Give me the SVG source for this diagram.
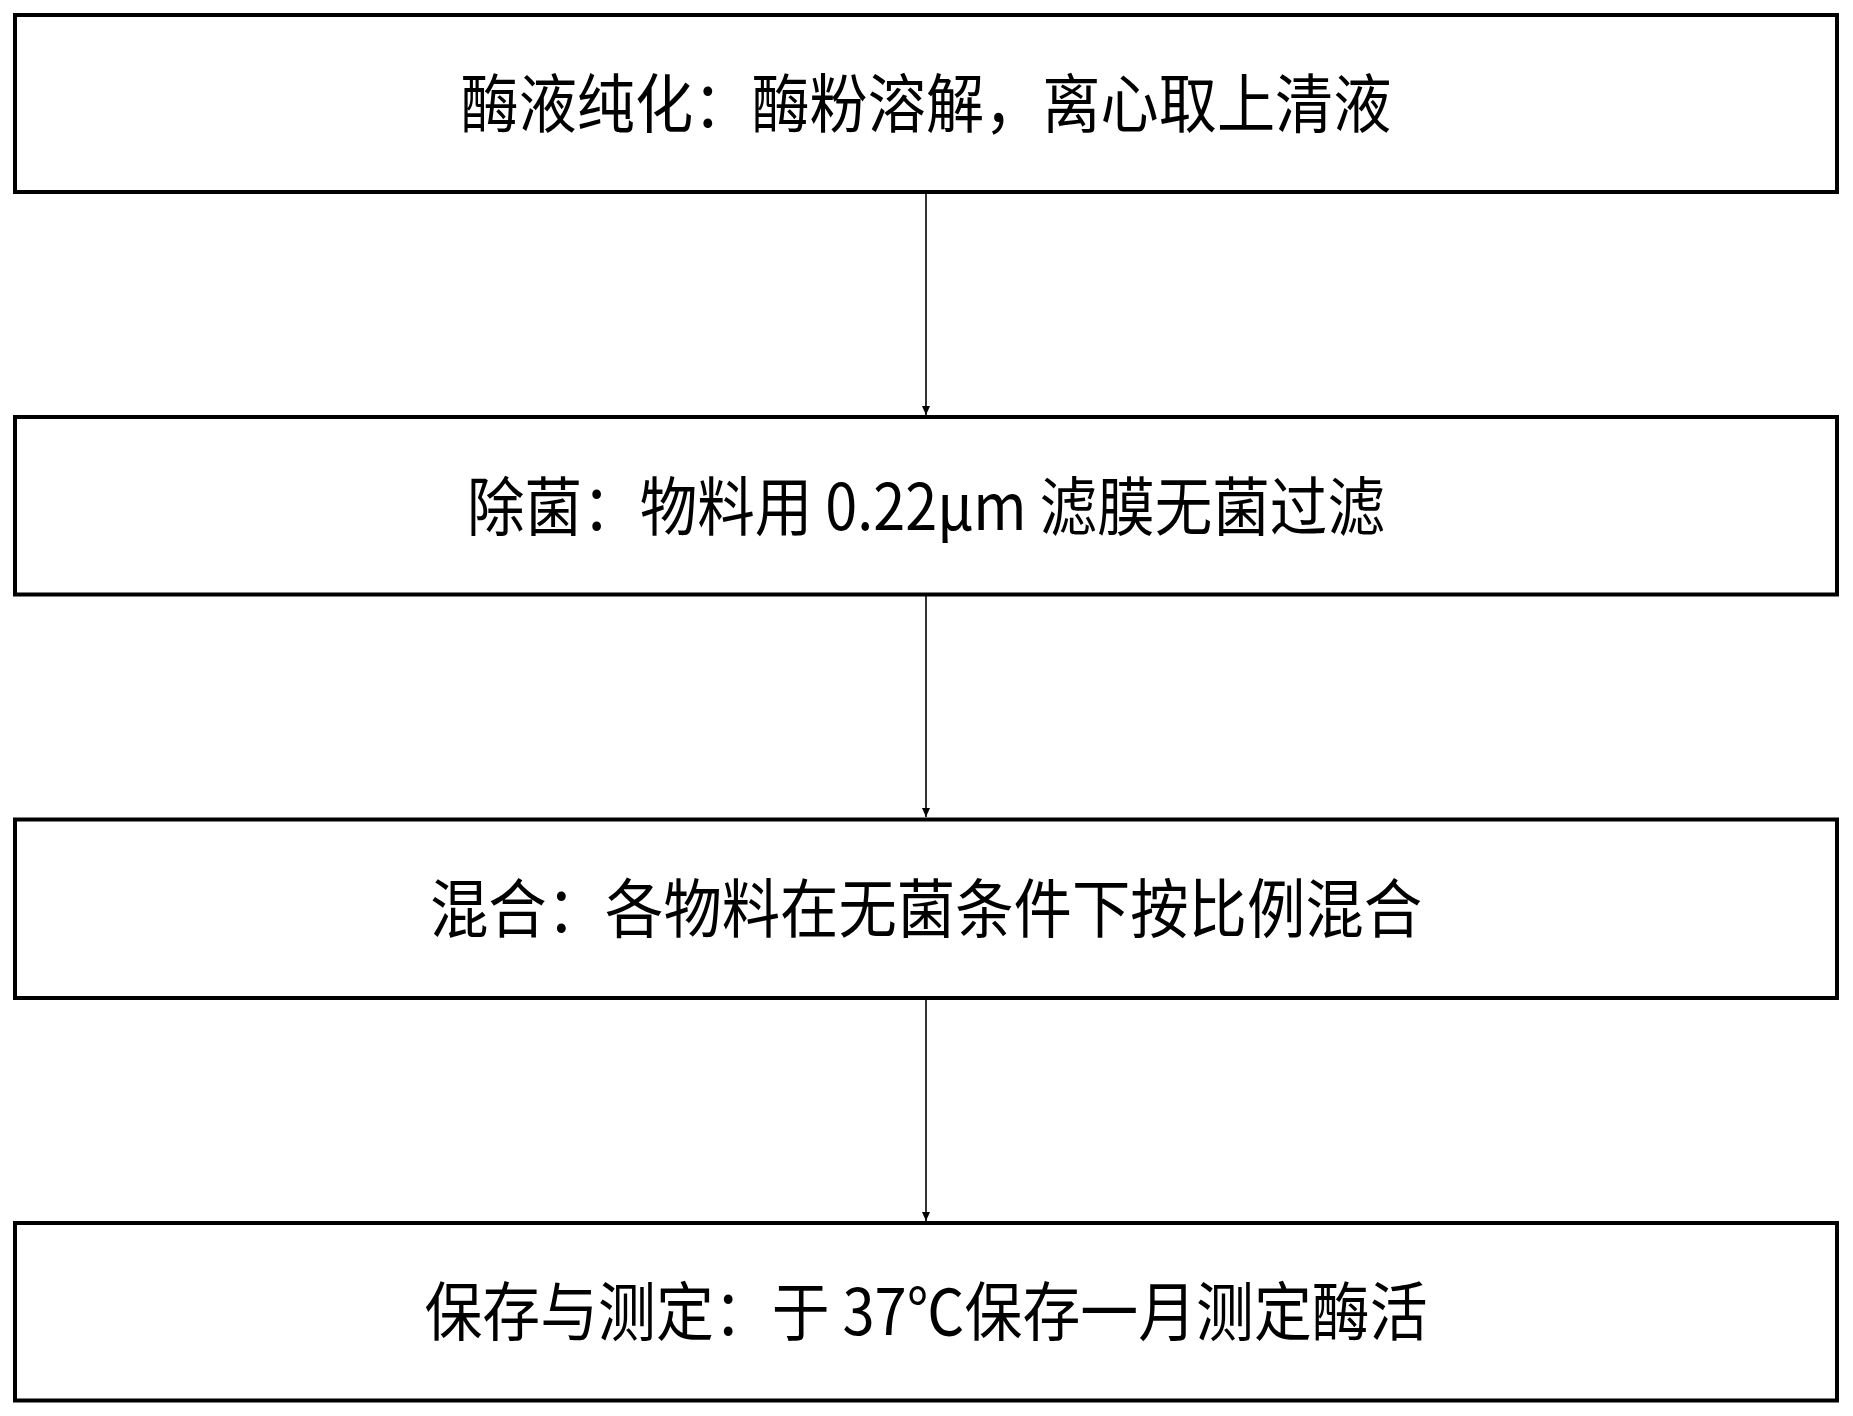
<svg xmlns="http://www.w3.org/2000/svg" width="1853" height="1416" viewBox="0 0 1853 1416">
<style>
.box{fill:#fff;stroke:#000;stroke-width:4}
.lbl{font-family:"Noto Sans CJK SC","Liberation Serif",serif;font-size:64px;fill:#000;text-anchor:middle}
.conn{stroke:#000;stroke-width:1.6;fill:none}
</style>
<defs>
<marker id="arr" markerUnits="userSpaceOnUse" markerWidth="10" markerHeight="10" refX="9" refY="5" orient="auto">
<path d="M0,1 L9,5 L0,9 Z" fill="#000"/>
</marker>
</defs>
<rect width="1853" height="1416" fill="#fff"/>
<g id="connectors">
<line class="conn" x1="926" y1="193" x2="926" y2="415" marker-end="url(#arr)"/>
<line class="conn" x1="926" y1="596" x2="926" y2="817" marker-end="url(#arr)"/>
<line class="conn" x1="926" y1="1000" x2="926" y2="1221" marker-end="url(#arr)"/>
</g>
<g id="node1">
<rect class="box" x="15" y="15" width="1822" height="177"/>
<text class="lbl" x="926" y="127" textLength="931" lengthAdjust="spacingAndGlyphs">酶液纯化：酶粉溶解，离心取上清液</text>
</g>
<g id="node2">
<rect class="box" x="15" y="417" width="1822" height="177.5"/>
<text class="lbl" x="926" y="530" textLength="918" lengthAdjust="spacingAndGlyphs">除菌：物料用 0.22μm 滤膜无菌过滤</text>
</g>
<g id="node3">
<rect class="box" x="15" y="819.5" width="1822" height="178.5"/>
<text class="lbl" x="926" y="932" textLength="992" lengthAdjust="spacingAndGlyphs">混合：各物料在无菌条件下按比例混合</text>
</g>
<g id="node4">
<rect class="box" x="15" y="1223" width="1822" height="177.5"/>
<text class="lbl" x="926" y="1335" textLength="1003" lengthAdjust="spacingAndGlyphs">保存与测定：于 37℃保存一月测定酶活</text>
</g>
</svg>
